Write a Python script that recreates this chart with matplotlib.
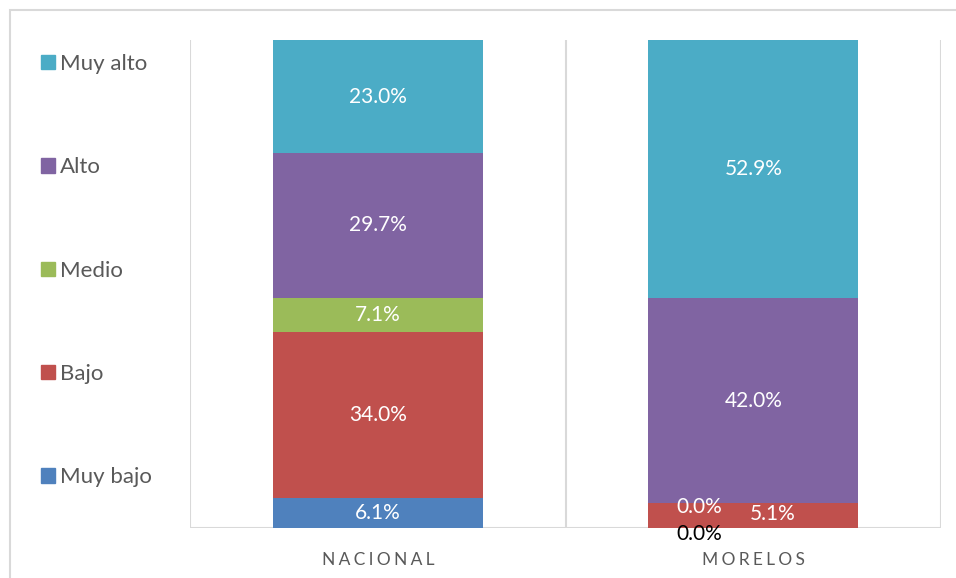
import numpy as np
import matplotlib.pyplot as plt
from matplotlib.patches import Rectangle, Patch

# -------------------------------
# Data
# -------------------------------
categories = ["NACIONAL", "MORELOS"]
levels = ["Muy bajo", "Bajo", "Medio", "Alto", "Muy alto"]
muy_bajo = [6.1, 0.0]
bajo = [34.0, 5.1]
medio = [7.1, 0.0]
alto = [29.7, 42.0]
muy_alto = [23.0, 52.9]

series = [muy_bajo, bajo, medio, alto, muy_alto]
colors = ["#4F81BD", "#C0504D", "#9BBB59", "#8064A2", "#4BACC6"]

# label nudges (points) for overlapping zero labels in MORELOS
label_offsets = {
    (0, 1): (-39, -4),
    (1, 1): (14, 1),
    (2, 1): (-39, -3),
}
label_colors = {(0, 1): "black"}

FONT = ["Lato", "DejaVu Sans"]
GRAY = "#D9D9D9"
TEXT = "#595959"

plt.rcParams["font.family"] = FONT

fig = plt.figure(figsize=(9.56, 5.78), dpi=100)
W, H = 956, 578
ax = fig.add_axes([190 / W, 1 - 528 / H, (941 - 190) / W, (528 - 40) / H])

x = np.arange(len(categories))
bottom = np.zeros(len(categories))
bar_w = 0.56
for i, (vals, c) in enumerate(zip(series, colors)):
    vals = np.array(vals)
    ax.bar(x, vals, bar_w, bottom=bottom, color=c, label=levels[i], zorder=2)
    for j, v in enumerate(vals):
        dx, dy = label_offsets.get((i, j), (0, 0))
        ax.annotate(f"{v:.1f}%", (x[j], bottom[j] + v / 2),
                    xytext=(dx, dy), textcoords="offset points",
                    ha="center", va="center", fontsize=15,
                    color=label_colors.get((i, j), "white"), zorder=3)
    bottom += vals

ax.set_xlim(-0.5, len(categories) - 0.5)
ax.set_ylim(0, 100)
for s in ax.spines.values():
    s.set_visible(False)
ax.set_yticks([])
for b in np.arange(-0.5, len(categories), 1.0):
    ax.axvline(b, color=GRAY, lw=1.5, zorder=1)
ax.axhline(0, color=GRAY, lw=1.5, zorder=1)

ax.set_xticks(x)
ax.set_xticklabels(["\u2009\u200a".join(c) for c in categories], fontsize=12.5,
                   color=TEXT)
ax.tick_params(axis="x", length=0, pad=17)

# legend (top entry = Muy alto)
handles = [Patch(color=c, label=l) for c, l in zip(colors, levels)][::-1]
fig.legend(handles=handles, loc="upper left",
           bbox_to_anchor=(41 / W, 1 - 54 / H), frameon=False,
           fontsize=16, labelcolor=TEXT, handlelength=0.62,
           handleheight=0.62, handletextpad=0.25, labelspacing=3.75,
           borderpad=0, borderaxespad=0)

# outer chart frame
fig.patches.append(Rectangle((10 / W, -0.1), 1.2, 1.1 - 10 / H,
                             transform=fig.transFigure, fill=False,
                             edgecolor=GRAY, lw=1.5))

fig.savefig("out.png", dpi=100)
